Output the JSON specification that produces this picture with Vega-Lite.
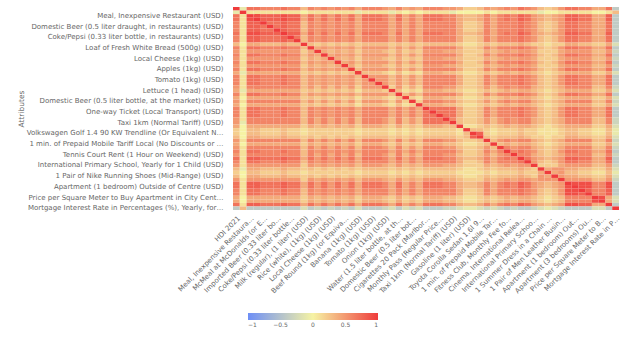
{
"$schema": "https://vega.github.io/schema/vega-lite/v6.json",
"width": 386, "height": 203,
"padding": {"left": 17, "top": 7, "right": 0, "bottom": 0},
"background": "white",
"datasets": {"attrs": [
{"i":0,"n":"HDI 2021"},{"i":1,"n":"Data Quality"},
{"i":2,"n":"Meal, Inexpensive Restaurant (USD)"},
{"i":3,"n":"Meal for 2 People, Mid-range Restaurant, Three-course (USD)"},
{"i":4,"n":"McMeal at McDonalds (or Equivalent Combo Meal) (USD)"},
{"i":5,"n":"Domestic Beer (0.5 liter draught, in restaurants) (USD)"},
{"i":6,"n":"Imported Beer (0.33 liter bottle, in restaurants) (USD)"},
{"i":7,"n":"Cappuccino (regular, in restaurants) (USD)"},
{"i":8,"n":"Coke/Pepsi (0.33 liter bottle, in restaurants) (USD)"},
{"i":9,"n":"Water (0.33 liter bottle, in restaurants) (USD)"},
{"i":10,"n":"Milk (regular), (1 liter) (USD)"},
{"i":11,"n":"Loaf of Fresh White Bread (500g) (USD)"},
{"i":12,"n":"Rice (white), (1kg) (USD)"},
{"i":13,"n":"Eggs (regular) (12) (USD)"},
{"i":14,"n":"Local Cheese (1kg) (USD)"},
{"i":15,"n":"Chicken Fillets (1kg) (USD)"},
{"i":16,"n":"Beef Round (1kg) (or Equivalent Back Leg Red Meat) (USD)"},
{"i":17,"n":"Apples (1kg) (USD)"},
{"i":18,"n":"Banana (1kg) (USD)"},
{"i":19,"n":"Oranges (1kg) (USD)"},
{"i":20,"n":"Tomato (1kg) (USD)"},
{"i":21,"n":"Potato (1kg) (USD)"},
{"i":22,"n":"Onion (1kg) (USD)"},
{"i":23,"n":"Lettuce (1 head) (USD)"},
{"i":24,"n":"Water (1.5 liter bottle, at the market) (USD)"},
{"i":25,"n":"Bottle of Wine (Mid-Range, At the Market) (USD)"},
{"i":26,"n":"Domestic Beer (0.5 liter bottle, at the market) (USD)"},
{"i":27,"n":"Imported Beer (0.33 liter bottle, at the market) (USD)"},
{"i":28,"n":"Cigarettes 20 Pack (Marlboro) (USD)"},
{"i":29,"n":"One-way Ticket (Local Transport) (USD)"},
{"i":30,"n":"Monthly Pass (Regular Price) (USD)"},
{"i":31,"n":"Taxi Start (Normal Tariff) (USD)"},
{"i":32,"n":"Taxi 1km (Normal Tariff) (USD)"},
{"i":33,"n":"Taxi 1hour Waiting (Normal Tariff) (USD)"},
{"i":34,"n":"Gasoline (1 liter) (USD)"},
{"i":35,"n":"Volkswagen Golf 1.4 90 KW Trendline (Or Equivalent New Car) (USD)"},
{"i":36,"n":"Toyota Corolla Sedan 1.6l 97kW Comfort (Or Equivalent New Car) (USD)"},
{"i":37,"n":"Basic (Electricity, Heating, Cooling, Water, Garbage) for 85m2 Apartment (USD)"},
{"i":38,"n":"1 min. of Prepaid Mobile Tariff Local (No Discounts or Plans) (USD)"},
{"i":39,"n":"Internet (60 Mbps or More, Unlimited Data, Cable/ADSL) (USD)"},
{"i":40,"n":"Fitness Club, Monthly Fee for 1 Adult (USD)"},
{"i":41,"n":"Tennis Court Rent (1 Hour on Weekend) (USD)"},
{"i":42,"n":"Cinema, International Release, 1 Seat (USD)"},
{"i":43,"n":"Preschool (or Kindergarten), Full Day, Private, Monthly for 1 Child (USD)"},
{"i":44,"n":"International Primary School, Yearly for 1 Child (USD)"},
{"i":45,"n":"1 Pair of Jeans (Levis 501 Or Similar) (USD)"},
{"i":46,"n":"1 Summer Dress in a Chain Store (Zara, H&M, ...) (USD)"},
{"i":47,"n":"1 Pair of Nike Running Shoes (Mid-Range) (USD)"},
{"i":48,"n":"1 Pair of Men Leather Business Shoes (USD)"},
{"i":49,"n":"Apartment (1 bedroom) in City Centre (USD)"},
{"i":50,"n":"Apartment (1 bedroom) Outside of Centre (USD)"},
{"i":51,"n":"Apartment (3 bedrooms) in City Centre (USD)"},
{"i":52,"n":"Apartment (3 bedrooms) Outside of Centre (USD)"},
{"i":53,"n":"Price per Square Meter to Buy Apartment in City Centre (USD)"},
{"i":54,"n":"Price per Square Meter to Buy Apartment Outside of Centre (USD)"},
{"i":55,"n":"Average Monthly Net Salary (After Tax) (USD)"},
{"i":56,"n":"Mortgage Interest Rate in Percentages (%), Yearly, for 20 Years Fixed-Rate"}
]},
"data": {"values": [
{"r":0,"c":[0,1,2,3,4,5,6,7,8,9,10,11,12,13,14,15,16,17,18,19,20,21,22,23,24,25,26,27,28,29,30,31,32,33,34,35,36,37,38,39,40,41,42,43,44,45,46,47,48,49,50,51,52,53,54,55,56],"v":[1,-0.1,0.7,0.7,0.6,0.6,0.6,0.7,0.6,0.6,0.3,0.6,0.5,0.6,0.5,0.6,0.5,0.6,0.4,0.6,0.6,0.6,0.5,0.4,0.6,0.4,0.5,0.4,0.6,0.6,0.6,0.5,0.5,0.4,0.2,0.2,0.3,0.5,0.4,0.5,0.6,0.5,0.7,0.6,0.5,0.3,0.2,0.3,0.5,0.7,0.7,0.6,0.6,0.4,0.4,0.7,-0.4]},
{"r":1,"c":[0,1,2,3,4,5,6,7,8,9,10,11,12,13,14,15,16,17,18,19,20,21,22,23,24,25,26,27,28,29,30,31,32,33,34,35,36,37,38,39,40,41,42,43,44,45,46,47,48,49,50,51,52,53,54,55,56],"v":[-0.1,1,0.1,0.1,0.1,0.1,0.1,0.1,0.1,0.1,0,0.1,0.1,0.1,0.1,0.1,0.1,0.1,-0.1,0.1,0.1,0.1,0.1,-0.1,0.1,0,0.1,0,0.1,0.1,0.1,0.1,-0.1,0,0,0,0,0.1,0,0.1,0.1,0.1,0.1,0.1,0.1,-0.1,0,0,0.1,0.1,0.1,0.1,0.1,0,0,0.1,0.3]},
{"r":2,"c":[0,1,2,3,4,5,6,7,8,9,10,11,12,13,14,15,16,17,18,19,20,21,22,23,24,25,26,27,28,29,30,31,32,33,34,35,36,37,38,39,40,41,42,43,44,45,46,47,48,49,50,51,52,53,54,55,56],"v":[0.7,0.1,1,0.9,0.8,0.8,0.8,0.9,0.8,0.8,0.4,0.7,0.5,0.7,0.5,0.7,0.5,0.7,0.4,0.7,0.7,0.7,0.6,0.4,0.7,0.4,0.6,0.4,0.7,0.7,0.7,0.6,0.6,0.4,0.3,0.3,0.4,0.6,0.4,0.6,0.7,0.6,0.8,0.7,0.5,0.4,0.3,0.4,0.5,0.8,0.8,0.7,0.7,0.4,0.4,0.8,-0.4]},
{"r":3,"c":[0,1,2,3,4,5,6,7,8,9,10,11,12,13,14,15,16,17,18,19,20,21,22,23,24,25,26,27,28,29,30,31,32,33,34,35,36,37,38,39,40,41,42,43,44,45,46,47,48,49,50,51,52,53,54,55,56],"v":[0.7,0.1,0.9,1,0.8,0.8,0.8,0.9,0.8,0.8,0.4,0.7,0.5,0.7,0.5,0.7,0.5,0.7,0.4,0.7,0.7,0.7,0.6,0.4,0.7,0.4,0.6,0.4,0.7,0.7,0.7,0.6,0.6,0.4,0.3,0.3,0.4,0.6,0.4,0.6,0.7,0.6,0.8,0.7,0.5,0.4,0.3,0.4,0.5,0.8,0.8,0.7,0.7,0.4,0.4,0.8,-0.4]},
{"r":4,"c":[0,1,2,3,4,5,6,7,8,9,10,11,12,13,14,15,16,17,18,19,20,21,22,23,24,25,26,27,28,29,30,31,32,33,34,35,36,37,38,39,40,41,42,43,44,45,46,47,48,49,50,51,52,53,54,55,56],"v":[0.6,0.1,0.8,0.8,1,0.7,0.7,0.8,0.7,0.7,0.3,0.6,0.5,0.6,0.5,0.6,0.5,0.6,0.4,0.6,0.6,0.6,0.6,0.4,0.6,0.4,0.6,0.4,0.6,0.6,0.6,0.6,0.6,0.4,0.2,0.2,0.3,0.6,0.4,0.6,0.6,0.6,0.7,0.6,0.5,0.3,0.2,0.3,0.5,0.7,0.7,0.6,0.6,0.4,0.4,0.7,-0.4]},
{"r":5,"c":[0,1,2,3,4,5,6,7,8,9,10,11,12,13,14,15,16,17,18,19,20,21,22,23,24,25,26,27,28,29,30,31,32,33,34,35,36,37,38,39,40,41,42,43,44,45,46,47,48,49,50,51,52,53,54,55,56],"v":[0.6,0.1,0.8,0.8,0.7,1,0.7,0.8,0.7,0.7,0.3,0.6,0.5,0.6,0.5,0.6,0.5,0.6,0.4,0.6,0.6,0.6,0.6,0.4,0.6,0.4,0.6,0.4,0.6,0.6,0.6,0.6,0.6,0.4,0.2,0.2,0.3,0.6,0.4,0.6,0.6,0.6,0.7,0.6,0.5,0.3,0.2,0.3,0.5,0.7,0.7,0.6,0.6,0.4,0.4,0.7,-0.4]},
{"r":6,"c":[0,1,2,3,4,5,6,7,8,9,10,11,12,13,14,15,16,17,18,19,20,21,22,23,24,25,26,27,28,29,30,31,32,33,34,35,36,37,38,39,40,41,42,43,44,45,46,47,48,49,50,51,52,53,54,55,56],"v":[0.6,0.1,0.8,0.8,0.7,0.7,1,0.8,0.7,0.7,0.3,0.6,0.5,0.6,0.5,0.6,0.5,0.6,0.4,0.6,0.6,0.6,0.6,0.4,0.6,0.4,0.6,0.4,0.6,0.6,0.6,0.6,0.6,0.4,0.2,0.2,0.3,0.6,0.4,0.6,0.6,0.6,0.7,0.6,0.5,0.3,0.2,0.3,0.5,0.7,0.7,0.6,0.6,0.4,0.4,0.7,-0.4]},
{"r":7,"c":[0,1,2,3,4,5,6,7,8,9,10,11,12,13,14,15,16,17,18,19,20,21,22,23,24,25,26,27,28,29,30,31,32,33,34,35,36,37,38,39,40,41,42,43,44,45,46,47,48,49,50,51,52,53,54,55,56],"v":[0.7,0.1,0.9,0.9,0.8,0.8,0.8,1,0.8,0.8,0.4,0.7,0.5,0.7,0.5,0.7,0.5,0.7,0.4,0.7,0.7,0.7,0.6,0.4,0.7,0.4,0.6,0.4,0.7,0.7,0.7,0.6,0.6,0.4,0.3,0.3,0.4,0.6,0.4,0.6,0.7,0.6,0.8,0.7,0.5,0.4,0.3,0.4,0.5,0.8,0.8,0.7,0.7,0.4,0.4,0.8,-0.4]},
{"r":8,"c":[0,1,2,3,4,5,6,7,8,9,10,11,12,13,14,15,16,17,18,19,20,21,22,23,24,25,26,27,28,29,30,31,32,33,34,35,36,37,38,39,40,41,42,43,44,45,46,47,48,49,50,51,52,53,54,55,56],"v":[0.6,0.1,0.8,0.8,0.7,0.7,0.7,0.8,1,0.7,0.3,0.6,0.5,0.6,0.5,0.6,0.5,0.6,0.4,0.6,0.6,0.6,0.6,0.4,0.6,0.4,0.6,0.4,0.6,0.6,0.6,0.6,0.6,0.4,0.2,0.2,0.3,0.6,0.4,0.6,0.6,0.6,0.7,0.6,0.5,0.3,0.2,0.3,0.5,0.7,0.7,0.6,0.6,0.4,0.4,0.7,-0.4]},
{"r":9,"c":[0,1,2,3,4,5,6,7,8,9,10,11,12,13,14,15,16,17,18,19,20,21,22,23,24,25,26,27,28,29,30,31,32,33,34,35,36,37,38,39,40,41,42,43,44,45,46,47,48,49,50,51,52,53,54,55,56],"v":[0.6,0.1,0.8,0.8,0.7,0.7,0.7,0.8,0.7,1,0.3,0.6,0.5,0.6,0.5,0.6,0.5,0.6,0.4,0.6,0.6,0.6,0.6,0.4,0.6,0.4,0.6,0.4,0.6,0.6,0.6,0.6,0.6,0.4,0.2,0.2,0.3,0.6,0.4,0.6,0.6,0.6,0.7,0.6,0.5,0.3,0.2,0.3,0.5,0.7,0.7,0.6,0.6,0.4,0.4,0.7,-0.4]},
{"r":10,"c":[0,1,2,3,4,5,6,7,8,9,10,11,12,13,14,15,16,17,18,19,20,21,22,23,24,25,26,27,28,29,30,31,32,33,34,35,36,37,38,39,40,41,42,43,44,45,46,47,48,49,50,51,52,53,54,55,56],"v":[0.3,0,0.4,0.4,0.3,0.3,0.3,0.4,0.3,0.3,1,0.3,0.2,0.3,0.2,0.3,0.2,0.3,0.2,0.3,0.3,0.3,0.3,0.2,0.3,0.2,0.3,0.2,0.3,0.3,0.3,0.3,0.3,0.2,0.1,0.1,0.2,0.3,0.2,0.3,0.3,0.3,0.4,0.3,0.2,0.2,0.1,0.2,0.2,0.4,0.4,0.3,0.3,0.2,0.2,0.4,-0.2]},
{"r":11,"c":[0,1,2,3,4,5,6,7,8,9,10,11,12,13,14,15,16,17,18,19,20,21,22,23,24,25,26,27,28,29,30,31,32,33,34,35,36,37,38,39,40,41,42,43,44,45,46,47,48,49,50,51,52,53,54,55,56],"v":[0.6,0.1,0.7,0.7,0.6,0.6,0.6,0.7,0.6,0.6,0.3,1,0.4,0.5,0.4,0.5,0.4,0.5,0.3,0.5,0.5,0.5,0.5,0.3,0.5,0.3,0.5,0.3,0.6,0.6,0.6,0.6,0.6,0.4,0.2,0.2,0.3,0.6,0.4,0.6,0.6,0.6,0.7,0.6,0.5,0.3,0.2,0.3,0.5,0.7,0.7,0.6,0.6,0.4,0.4,0.7,-0.4]},
{"r":12,"c":[0,1,2,3,4,5,6,7,8,9,10,11,12,13,14,15,16,17,18,19,20,21,22,23,24,25,26,27,28,29,30,31,32,33,34,35,36,37,38,39,40,41,42,43,44,45,46,47,48,49,50,51,52,53,54,55,56],"v":[0.5,0.1,0.5,0.5,0.5,0.5,0.5,0.5,0.5,0.5,0.2,0.4,1,0.4,0.3,0.4,0.3,0.4,0.2,0.4,0.4,0.4,0.3,0.2,0.4,0.2,0.3,0.2,0.5,0.5,0.5,0.4,0.4,0.3,0.2,0.2,0.2,0.4,0.3,0.4,0.5,0.4,0.5,0.5,0.4,0.2,0.2,0.2,0.4,0.5,0.5,0.5,0.5,0.3,0.3,0.5,-0.3]},
{"r":13,"c":[0,1,2,3,4,5,6,7,8,9,10,11,12,13,14,15,16,17,18,19,20,21,22,23,24,25,26,27,28,29,30,31,32,33,34,35,36,37,38,39,40,41,42,43,44,45,46,47,48,49,50,51,52,53,54,55,56],"v":[0.6,0.1,0.7,0.7,0.6,0.6,0.6,0.7,0.6,0.6,0.3,0.5,0.4,1,0.4,0.5,0.4,0.5,0.3,0.5,0.5,0.5,0.5,0.3,0.5,0.3,0.5,0.3,0.6,0.6,0.6,0.6,0.6,0.4,0.2,0.2,0.3,0.6,0.4,0.6,0.6,0.6,0.7,0.6,0.5,0.3,0.2,0.3,0.5,0.7,0.7,0.6,0.6,0.4,0.4,0.7,-0.4]},
{"r":14,"c":[0,1,2,3,4,5,6,7,8,9,10,11,12,13,14,15,16,17,18,19,20,21,22,23,24,25,26,27,28,29,30,31,32,33,34,35,36,37,38,39,40,41,42,43,44,45,46,47,48,49,50,51,52,53,54,55,56],"v":[0.5,0.1,0.5,0.5,0.5,0.5,0.5,0.5,0.5,0.5,0.2,0.4,0.3,0.4,1,0.4,0.3,0.4,0.2,0.4,0.4,0.4,0.3,0.2,0.4,0.2,0.3,0.2,0.5,0.5,0.5,0.4,0.4,0.3,0.2,0.2,0.2,0.4,0.3,0.4,0.5,0.4,0.5,0.5,0.4,0.2,0.2,0.2,0.4,0.5,0.5,0.5,0.5,0.3,0.3,0.5,-0.3]},
{"r":15,"c":[0,1,2,3,4,5,6,7,8,9,10,11,12,13,14,15,16,17,18,19,20,21,22,23,24,25,26,27,28,29,30,31,32,33,34,35,36,37,38,39,40,41,42,43,44,45,46,47,48,49,50,51,52,53,54,55,56],"v":[0.6,0.1,0.7,0.7,0.6,0.6,0.6,0.7,0.6,0.6,0.3,0.5,0.4,0.5,0.4,1,0.4,0.5,0.3,0.5,0.5,0.5,0.5,0.3,0.5,0.3,0.5,0.3,0.6,0.6,0.6,0.6,0.6,0.4,0.2,0.2,0.3,0.6,0.4,0.6,0.6,0.6,0.7,0.6,0.5,0.3,0.2,0.3,0.5,0.7,0.7,0.6,0.6,0.4,0.4,0.7,-0.4]},
{"r":16,"c":[0,1,2,3,4,5,6,7,8,9,10,11,12,13,14,15,16,17,18,19,20,21,22,23,24,25,26,27,28,29,30,31,32,33,34,35,36,37,38,39,40,41,42,43,44,45,46,47,48,49,50,51,52,53,54,55,56],"v":[0.5,0.1,0.5,0.5,0.5,0.5,0.5,0.5,0.5,0.5,0.2,0.4,0.3,0.4,0.3,0.4,1,0.4,0.2,0.4,0.4,0.4,0.3,0.2,0.4,0.2,0.3,0.2,0.5,0.5,0.5,0.4,0.4,0.3,0.2,0.2,0.2,0.4,0.3,0.4,0.5,0.4,0.5,0.5,0.4,0.2,0.2,0.2,0.4,0.5,0.5,0.5,0.5,0.3,0.3,0.5,-0.3]},
{"r":17,"c":[0,1,2,3,4,5,6,7,8,9,10,11,12,13,14,15,16,17,18,19,20,21,22,23,24,25,26,27,28,29,30,31,32,33,34,35,36,37,38,39,40,41,42,43,44,45,46,47,48,49,50,51,52,53,54,55,56],"v":[0.6,0.1,0.7,0.7,0.6,0.6,0.6,0.7,0.6,0.6,0.3,0.5,0.4,0.5,0.4,0.5,0.4,1,0.3,0.5,0.5,0.5,0.5,0.3,0.5,0.3,0.5,0.3,0.6,0.6,0.6,0.6,0.6,0.4,0.2,0.2,0.3,0.6,0.4,0.6,0.6,0.6,0.7,0.6,0.5,0.3,0.2,0.3,0.5,0.7,0.7,0.6,0.6,0.4,0.4,0.7,-0.4]},
{"r":18,"c":[0,1,2,3,4,5,6,7,8,9,10,11,12,13,14,15,16,17,18,19,20,21,22,23,24,25,26,27,28,29,30,31,32,33,34,35,36,37,38,39,40,41,42,43,44,45,46,47,48,49,50,51,52,53,54,55,56],"v":[0.4,-0.1,0.4,0.4,0.4,0.4,0.4,0.4,0.4,0.4,0.2,0.3,0.2,0.3,0.2,0.3,0.2,0.3,1,0.3,0.3,0.3,0.2,0.1,0.3,0.1,0.2,0.1,0.4,0.4,0.4,0.3,0.3,0.2,0.1,0.1,0.2,0.3,0.2,0.3,0.4,0.3,0.4,0.4,0.3,0.2,0.1,0.2,0.3,0.4,0.4,0.4,0.4,0.2,0.2,0.4,-0.2]},
{"r":19,"c":[0,1,2,3,4,5,6,7,8,9,10,11,12,13,14,15,16,17,18,19,20,21,22,23,24,25,26,27,28,29,30,31,32,33,34,35,36,37,38,39,40,41,42,43,44,45,46,47,48,49,50,51,52,53,54,55,56],"v":[0.6,0.1,0.7,0.7,0.6,0.6,0.6,0.7,0.6,0.6,0.3,0.5,0.4,0.5,0.4,0.5,0.4,0.5,0.3,1,0.5,0.5,0.5,0.3,0.5,0.3,0.5,0.3,0.6,0.6,0.6,0.6,0.6,0.4,0.2,0.2,0.3,0.6,0.4,0.6,0.6,0.6,0.7,0.6,0.5,0.3,0.2,0.3,0.5,0.7,0.7,0.6,0.6,0.4,0.4,0.7,-0.4]},
{"r":20,"c":[0,1,2,3,4,5,6,7,8,9,10,11,12,13,14,15,16,17,18,19,20,21,22,23,24,25,26,27,28,29,30,31,32,33,34,35,36,37,38,39,40,41,42,43,44,45,46,47,48,49,50,51,52,53,54,55,56],"v":[0.6,0.1,0.7,0.7,0.6,0.6,0.6,0.7,0.6,0.6,0.3,0.5,0.4,0.5,0.4,0.5,0.4,0.5,0.3,0.5,1,0.5,0.5,0.3,0.5,0.3,0.5,0.3,0.6,0.6,0.6,0.6,0.6,0.4,0.2,0.2,0.3,0.6,0.4,0.6,0.6,0.6,0.7,0.6,0.5,0.3,0.2,0.3,0.5,0.7,0.7,0.6,0.6,0.4,0.4,0.7,-0.4]},
{"r":21,"c":[0,1,2,3,4,5,6,7,8,9,10,11,12,13,14,15,16,17,18,19,20,21,22,23,24,25,26,27,28,29,30,31,32,33,34,35,36,37,38,39,40,41,42,43,44,45,46,47,48,49,50,51,52,53,54,55,56],"v":[0.6,0.1,0.7,0.7,0.6,0.6,0.6,0.7,0.6,0.6,0.3,0.5,0.4,0.5,0.4,0.5,0.4,0.5,0.3,0.5,0.5,1,0.5,0.3,0.5,0.3,0.5,0.3,0.6,0.6,0.6,0.6,0.6,0.4,0.2,0.2,0.3,0.6,0.4,0.6,0.6,0.6,0.7,0.6,0.5,0.3,0.2,0.3,0.5,0.7,0.7,0.6,0.6,0.4,0.4,0.7,-0.4]},
{"r":22,"c":[0,1,2,3,4,5,6,7,8,9,10,11,12,13,14,15,16,17,18,19,20,21,22,23,24,25,26,27,28,29,30,31,32,33,34,35,36,37,38,39,40,41,42,43,44,45,46,47,48,49,50,51,52,53,54,55,56],"v":[0.5,0.1,0.6,0.6,0.6,0.6,0.6,0.6,0.6,0.6,0.3,0.5,0.3,0.5,0.3,0.5,0.3,0.5,0.2,0.5,0.5,0.5,1,0.2,0.5,0.2,0.4,0.2,0.6,0.6,0.6,0.5,0.5,0.3,0.2,0.2,0.3,0.5,0.3,0.5,0.6,0.5,0.6,0.6,0.4,0.3,0.2,0.3,0.4,0.6,0.6,0.6,0.6,0.3,0.3,0.6,-0.3]},
{"r":23,"c":[0,1,2,3,4,5,6,7,8,9,10,11,12,13,14,15,16,17,18,19,20,21,22,23,24,25,26,27,28,29,30,31,32,33,34,35,36,37,38,39,40,41,42,43,44,45,46,47,48,49,50,51,52,53,54,55,56],"v":[0.4,-0.1,0.4,0.4,0.4,0.4,0.4,0.4,0.4,0.4,0.2,0.3,0.2,0.3,0.2,0.3,0.2,0.3,0.1,0.3,0.3,0.3,0.2,1,0.3,0.1,0.2,0.1,0.4,0.4,0.4,0.3,0.3,0.2,0.1,0.1,0.2,0.3,0.2,0.3,0.4,0.3,0.4,0.4,0.3,0.2,0.1,0.2,0.3,0.4,0.4,0.4,0.4,0.2,0.2,0.4,-0.2]},
{"r":24,"c":[0,1,2,3,4,5,6,7,8,9,10,11,12,13,14,15,16,17,18,19,20,21,22,23,24,25,26,27,28,29,30,31,32,33,34,35,36,37,38,39,40,41,42,43,44,45,46,47,48,49,50,51,52,53,54,55,56],"v":[0.6,0.1,0.7,0.7,0.6,0.6,0.6,0.7,0.6,0.6,0.3,0.5,0.4,0.5,0.4,0.5,0.4,0.5,0.3,0.5,0.5,0.5,0.5,0.3,1,0.3,0.5,0.3,0.6,0.6,0.6,0.6,0.6,0.4,0.2,0.2,0.3,0.6,0.4,0.6,0.6,0.6,0.7,0.6,0.5,0.3,0.2,0.3,0.5,0.7,0.7,0.6,0.6,0.4,0.4,0.7,-0.4]},
{"r":25,"c":[0,1,2,3,4,5,6,7,8,9,10,11,12,13,14,15,16,17,18,19,20,21,22,23,24,25,26,27,28,29,30,31,32,33,34,35,36,37,38,39,40,41,42,43,44,45,46,47,48,49,50,51,52,53,54,55,56],"v":[0.4,0,0.4,0.4,0.4,0.4,0.4,0.4,0.4,0.4,0.2,0.3,0.2,0.3,0.2,0.3,0.2,0.3,0.1,0.3,0.3,0.3,0.2,0.1,0.3,1,0.2,0.1,0.4,0.4,0.4,0.3,0.3,0.2,0.1,0.1,0.2,0.3,0.2,0.3,0.4,0.3,0.4,0.4,0.3,0.2,0.1,0.2,0.3,0.4,0.4,0.4,0.4,0.2,0.2,0.4,-0.2]},
{"r":26,"c":[0,1,2,3,4,5,6,7,8,9,10,11,12,13,14,15,16,17,18,19,20,21,22,23,24,25,26,27,28,29,30,31,32,33,34,35,36,37,38,39,40,41,42,43,44,45,46,47,48,49,50,51,52,53,54,55,56],"v":[0.5,0.1,0.6,0.6,0.6,0.6,0.6,0.6,0.6,0.6,0.3,0.5,0.3,0.5,0.3,0.5,0.3,0.5,0.2,0.5,0.5,0.5,0.4,0.2,0.5,0.2,1,0.2,0.6,0.6,0.6,0.5,0.5,0.3,0.2,0.2,0.3,0.5,0.3,0.5,0.6,0.5,0.6,0.6,0.4,0.3,0.2,0.3,0.4,0.6,0.6,0.6,0.6,0.3,0.3,0.6,-0.3]},
{"r":27,"c":[0,1,2,3,4,5,6,7,8,9,10,11,12,13,14,15,16,17,18,19,20,21,22,23,24,25,26,27,28,29,30,31,32,33,34,35,36,37,38,39,40,41,42,43,44,45,46,47,48,49,50,51,52,53,54,55,56],"v":[0.4,0,0.4,0.4,0.4,0.4,0.4,0.4,0.4,0.4,0.2,0.3,0.2,0.3,0.2,0.3,0.2,0.3,0.1,0.3,0.3,0.3,0.2,0.1,0.3,0.1,0.2,1,0.4,0.4,0.4,0.3,0.3,0.2,0.1,0.1,0.2,0.3,0.2,0.3,0.4,0.3,0.4,0.4,0.3,0.2,0.1,0.2,0.3,0.4,0.4,0.4,0.4,0.2,0.2,0.4,-0.2]},
{"r":28,"c":[0,1,2,3,4,5,6,7,8,9,10,11,12,13,14,15,16,17,18,19,20,21,22,23,24,25,26,27,28,29,30,31,32,33,34,35,36,37,38,39,40,41,42,43,44,45,46,47,48,49,50,51,52,53,54,55,56],"v":[0.6,0.1,0.7,0.7,0.6,0.6,0.6,0.7,0.6,0.6,0.3,0.6,0.5,0.6,0.5,0.6,0.5,0.6,0.4,0.6,0.6,0.6,0.6,0.4,0.6,0.4,0.6,0.4,1,0.7,0.7,0.7,0.7,0.4,0.2,0.2,0.3,0.6,0.4,0.6,0.6,0.6,0.7,0.6,0.5,0.3,0.2,0.3,0.5,0.7,0.7,0.6,0.6,0.4,0.4,0.7,-0.4]},
{"r":29,"c":[0,1,2,3,4,5,6,7,8,9,10,11,12,13,14,15,16,17,18,19,20,21,22,23,24,25,26,27,28,29,30,31,32,33,34,35,36,37,38,39,40,41,42,43,44,45,46,47,48,49,50,51,52,53,54,55,56],"v":[0.6,0.1,0.7,0.7,0.6,0.6,0.6,0.7,0.6,0.6,0.3,0.6,0.5,0.6,0.5,0.6,0.5,0.6,0.4,0.6,0.6,0.6,0.6,0.4,0.6,0.4,0.6,0.4,0.7,1,0.7,0.7,0.7,0.4,0.2,0.2,0.3,0.6,0.4,0.6,0.6,0.6,0.7,0.6,0.5,0.3,0.2,0.3,0.5,0.7,0.7,0.6,0.6,0.4,0.4,0.7,-0.4]},
{"r":30,"c":[0,1,2,3,4,5,6,7,8,9,10,11,12,13,14,15,16,17,18,19,20,21,22,23,24,25,26,27,28,29,30,31,32,33,34,35,36,37,38,39,40,41,42,43,44,45,46,47,48,49,50,51,52,53,54,55,56],"v":[0.6,0.1,0.7,0.7,0.6,0.6,0.6,0.7,0.6,0.6,0.3,0.6,0.5,0.6,0.5,0.6,0.5,0.6,0.4,0.6,0.6,0.6,0.6,0.4,0.6,0.4,0.6,0.4,0.7,0.7,1,0.7,0.7,0.4,0.2,0.2,0.3,0.6,0.4,0.6,0.6,0.6,0.7,0.6,0.5,0.3,0.2,0.3,0.5,0.7,0.7,0.6,0.6,0.4,0.4,0.7,-0.4]},
{"r":31,"c":[0,1,2,3,4,5,6,7,8,9,10,11,12,13,14,15,16,17,18,19,20,21,22,23,24,25,26,27,28,29,30,31,32,33,34,35,36,37,38,39,40,41,42,43,44,45,46,47,48,49,50,51,52,53,54,55,56],"v":[0.5,0.1,0.6,0.6,0.6,0.6,0.6,0.6,0.6,0.6,0.3,0.6,0.4,0.6,0.4,0.6,0.4,0.6,0.3,0.6,0.6,0.6,0.5,0.3,0.6,0.3,0.5,0.3,0.7,0.7,0.7,1,0.6,0.3,0.2,0.2,0.3,0.5,0.3,0.5,0.6,0.5,0.6,0.6,0.4,0.3,0.2,0.3,0.4,0.6,0.6,0.6,0.6,0.3,0.3,0.6,-0.3]},
{"r":32,"c":[0,1,2,3,4,5,6,7,8,9,10,11,12,13,14,15,16,17,18,19,20,21,22,23,24,25,26,27,28,29,30,31,32,33,34,35,36,37,38,39,40,41,42,43,44,45,46,47,48,49,50,51,52,53,54,55,56],"v":[0.5,-0.1,0.6,0.6,0.6,0.6,0.6,0.6,0.6,0.6,0.3,0.6,0.4,0.6,0.4,0.6,0.4,0.6,0.3,0.6,0.6,0.6,0.5,0.3,0.6,0.3,0.5,0.3,0.7,0.7,0.7,0.6,1,0.3,0.2,0.2,0.3,0.5,0.3,0.5,0.6,0.5,0.6,0.6,0.4,0.3,0.2,0.3,0.4,0.6,0.6,0.6,0.6,0.3,0.3,0.6,-0.3]},
{"r":33,"c":[0,1,2,3,4,5,6,7,8,9,10,11,12,13,14,15,16,17,18,19,20,21,22,23,24,25,26,27,28,29,30,31,32,33,34,35,36,37,38,39,40,41,42,43,44,45,46,47,48,49,50,51,52,53,54,55,56],"v":[0.4,0,0.4,0.4,0.4,0.4,0.4,0.4,0.4,0.4,0.2,0.4,0.3,0.4,0.3,0.4,0.3,0.4,0.2,0.4,0.4,0.4,0.3,0.2,0.4,0.2,0.3,0.2,0.4,0.4,0.4,0.3,0.3,1,0.1,0.1,0.2,0.3,0.2,0.3,0.4,0.3,0.4,0.4,0.3,0.2,0.1,0.2,0.3,0.4,0.4,0.4,0.4,0.2,0.2,0.4,-0.2]},
{"r":34,"c":[0,1,2,3,4,5,6,7,8,9,10,11,12,13,14,15,16,17,18,19,20,21,22,23,24,25,26,27,28,29,30,31,32,33,34,35,36,37,38,39,40,41,42,43,44,45,46,47,48,49,50,51,52,53,54,55,56],"v":[0.2,0,0.3,0.3,0.2,0.2,0.2,0.3,0.2,0.2,0.1,0.2,0.2,0.2,0.2,0.2,0.2,0.2,0.1,0.2,0.2,0.2,0.2,0.1,0.2,0.1,0.2,0.1,0.2,0.2,0.2,0.2,0.2,0.1,1,0.3,0.3,0.2,0.1,0.2,0.2,0.2,0.3,0.2,0.2,0.1,0.1,0.1,0.2,0.3,0.3,0.2,0.2,0.1,0.1,0.3,-0.1]},
{"r":35,"c":[0,1,2,3,4,5,6,7,8,9,10,11,12,13,14,15,16,17,18,19,20,21,22,23,24,25,26,27,28,29,30,31,32,33,34,35,36,37,38,39,40,41,42,43,44,45,46,47,48,49,50,51,52,53,54,55,56],"v":[0.2,0,0.3,0.3,0.2,0.2,0.2,0.3,0.2,0.2,0.1,0.2,0.2,0.2,0.2,0.2,0.2,0.2,0.1,0.2,0.2,0.2,0.2,0.1,0.2,0.1,0.2,0.1,0.2,0.2,0.2,0.2,0.2,0.1,0.3,1,0.8,0.2,0.1,0.2,0.2,0.2,0.3,0.2,0.2,0.1,0.1,0.1,0.2,0.3,0.3,0.2,0.2,0.1,0.1,0.3,-0.1]},
{"r":36,"c":[0,1,2,3,4,5,6,7,8,9,10,11,12,13,14,15,16,17,18,19,20,21,22,23,24,25,26,27,28,29,30,31,32,33,34,35,36,37,38,39,40,41,42,43,44,45,46,47,48,49,50,51,52,53,54,55,56],"v":[0.3,0,0.4,0.4,0.3,0.3,0.3,0.4,0.3,0.3,0.2,0.3,0.2,0.3,0.2,0.3,0.2,0.3,0.2,0.3,0.3,0.3,0.3,0.2,0.3,0.2,0.3,0.2,0.3,0.3,0.3,0.3,0.3,0.2,0.3,0.8,1,0.3,0.2,0.3,0.3,0.3,0.4,0.3,0.2,0.2,0.1,0.2,0.2,0.4,0.4,0.3,0.3,0.2,0.2,0.4,-0.2]},
{"r":37,"c":[0,1,2,3,4,5,6,7,8,9,10,11,12,13,14,15,16,17,18,19,20,21,22,23,24,25,26,27,28,29,30,31,32,33,34,35,36,37,38,39,40,41,42,43,44,45,46,47,48,49,50,51,52,53,54,55,56],"v":[0.5,0.1,0.6,0.6,0.6,0.6,0.6,0.6,0.6,0.6,0.3,0.6,0.4,0.6,0.4,0.6,0.4,0.6,0.3,0.6,0.6,0.6,0.5,0.3,0.6,0.3,0.5,0.3,0.6,0.6,0.6,0.5,0.5,0.3,0.2,0.2,0.3,1,0.3,0.5,0.6,0.5,0.6,0.6,0.4,0.3,0.2,0.3,0.4,0.6,0.6,0.6,0.6,0.3,0.3,0.6,-0.3]},
{"r":38,"c":[0,1,2,3,4,5,6,7,8,9,10,11,12,13,14,15,16,17,18,19,20,21,22,23,24,25,26,27,28,29,30,31,32,33,34,35,36,37,38,39,40,41,42,43,44,45,46,47,48,49,50,51,52,53,54,55,56],"v":[0.4,0,0.4,0.4,0.4,0.4,0.4,0.4,0.4,0.4,0.2,0.4,0.3,0.4,0.3,0.4,0.3,0.4,0.2,0.4,0.4,0.4,0.3,0.2,0.4,0.2,0.3,0.2,0.4,0.4,0.4,0.3,0.3,0.2,0.1,0.1,0.2,0.3,1,0.3,0.4,0.3,0.4,0.4,0.3,0.2,0.1,0.2,0.3,0.4,0.4,0.4,0.4,0.2,0.2,0.4,-0.2]},
{"r":39,"c":[0,1,2,3,4,5,6,7,8,9,10,11,12,13,14,15,16,17,18,19,20,21,22,23,24,25,26,27,28,29,30,31,32,33,34,35,36,37,38,39,40,41,42,43,44,45,46,47,48,49,50,51,52,53,54,55,56],"v":[0.5,0.1,0.6,0.6,0.6,0.6,0.6,0.6,0.6,0.6,0.3,0.6,0.4,0.6,0.4,0.6,0.4,0.6,0.3,0.6,0.6,0.6,0.5,0.3,0.6,0.3,0.5,0.3,0.6,0.6,0.6,0.5,0.5,0.3,0.2,0.2,0.3,0.5,0.3,1,0.6,0.5,0.6,0.6,0.4,0.3,0.2,0.3,0.4,0.6,0.6,0.6,0.6,0.3,0.3,0.6,-0.3]},
{"r":40,"c":[0,1,2,3,4,5,6,7,8,9,10,11,12,13,14,15,16,17,18,19,20,21,22,23,24,25,26,27,28,29,30,31,32,33,34,35,36,37,38,39,40,41,42,43,44,45,46,47,48,49,50,51,52,53,54,55,56],"v":[0.6,0.1,0.7,0.7,0.6,0.6,0.6,0.7,0.6,0.6,0.3,0.6,0.5,0.6,0.5,0.6,0.5,0.6,0.4,0.6,0.6,0.6,0.6,0.4,0.6,0.4,0.6,0.4,0.6,0.6,0.6,0.6,0.6,0.4,0.2,0.2,0.3,0.6,0.4,0.6,1,0.6,0.7,0.6,0.5,0.3,0.2,0.3,0.5,0.7,0.7,0.6,0.6,0.4,0.4,0.7,-0.4]},
{"r":41,"c":[0,1,2,3,4,5,6,7,8,9,10,11,12,13,14,15,16,17,18,19,20,21,22,23,24,25,26,27,28,29,30,31,32,33,34,35,36,37,38,39,40,41,42,43,44,45,46,47,48,49,50,51,52,53,54,55,56],"v":[0.5,0.1,0.6,0.6,0.6,0.6,0.6,0.6,0.6,0.6,0.3,0.6,0.4,0.6,0.4,0.6,0.4,0.6,0.3,0.6,0.6,0.6,0.5,0.3,0.6,0.3,0.5,0.3,0.6,0.6,0.6,0.5,0.5,0.3,0.2,0.2,0.3,0.5,0.3,0.5,0.6,1,0.6,0.6,0.4,0.3,0.2,0.3,0.4,0.6,0.6,0.6,0.6,0.3,0.3,0.6,-0.3]},
{"r":42,"c":[0,1,2,3,4,5,6,7,8,9,10,11,12,13,14,15,16,17,18,19,20,21,22,23,24,25,26,27,28,29,30,31,32,33,34,35,36,37,38,39,40,41,42,43,44,45,46,47,48,49,50,51,52,53,54,55,56],"v":[0.7,0.1,0.8,0.8,0.7,0.7,0.7,0.8,0.7,0.7,0.4,0.7,0.5,0.7,0.5,0.7,0.5,0.7,0.4,0.7,0.7,0.7,0.6,0.4,0.7,0.4,0.6,0.4,0.7,0.7,0.7,0.6,0.6,0.4,0.3,0.3,0.4,0.6,0.4,0.6,0.7,0.6,1,0.7,0.5,0.4,0.3,0.4,0.5,0.8,0.8,0.7,0.7,0.4,0.4,0.8,-0.4]},
{"r":43,"c":[0,1,2,3,4,5,6,7,8,9,10,11,12,13,14,15,16,17,18,19,20,21,22,23,24,25,26,27,28,29,30,31,32,33,34,35,36,37,38,39,40,41,42,43,44,45,46,47,48,49,50,51,52,53,54,55,56],"v":[0.6,0.1,0.7,0.7,0.6,0.6,0.6,0.7,0.6,0.6,0.3,0.6,0.5,0.6,0.5,0.6,0.5,0.6,0.4,0.6,0.6,0.6,0.6,0.4,0.6,0.4,0.6,0.4,0.6,0.6,0.6,0.6,0.6,0.4,0.2,0.2,0.3,0.6,0.4,0.6,0.6,0.6,0.7,1,0.5,0.3,0.2,0.3,0.5,0.7,0.7,0.6,0.6,0.4,0.4,0.7,-0.4]},
{"r":44,"c":[0,1,2,3,4,5,6,7,8,9,10,11,12,13,14,15,16,17,18,19,20,21,22,23,24,25,26,27,28,29,30,31,32,33,34,35,36,37,38,39,40,41,42,43,44,45,46,47,48,49,50,51,52,53,54,55,56],"v":[0.5,0.1,0.5,0.5,0.5,0.5,0.5,0.5,0.5,0.5,0.2,0.5,0.4,0.5,0.4,0.5,0.4,0.5,0.3,0.5,0.5,0.5,0.4,0.3,0.5,0.3,0.4,0.3,0.5,0.5,0.5,0.4,0.4,0.3,0.2,0.2,0.2,0.4,0.3,0.4,0.5,0.4,0.5,0.5,1,0.2,0.2,0.2,0.4,0.5,0.5,0.5,0.5,0.3,0.3,0.5,-0.3]},
{"r":45,"c":[0,1,2,3,4,5,6,7,8,9,10,11,12,13,14,15,16,17,18,19,20,21,22,23,24,25,26,27,28,29,30,31,32,33,34,35,36,37,38,39,40,41,42,43,44,45,46,47,48,49,50,51,52,53,54,55,56],"v":[0.3,-0.1,0.4,0.4,0.3,0.3,0.3,0.4,0.3,0.3,0.2,0.3,0.2,0.3,0.2,0.3,0.2,0.3,0.2,0.3,0.3,0.3,0.3,0.2,0.3,0.2,0.3,0.2,0.3,0.3,0.3,0.3,0.3,0.2,0.1,0.1,0.2,0.3,0.2,0.3,0.3,0.3,0.4,0.3,0.2,1,0.4,0.5,0.5,0.4,0.4,0.3,0.3,0.2,0.2,0.4,-0.2]},
{"r":46,"c":[0,1,2,3,4,5,6,7,8,9,10,11,12,13,14,15,16,17,18,19,20,21,22,23,24,25,26,27,28,29,30,31,32,33,34,35,36,37,38,39,40,41,42,43,44,45,46,47,48,49,50,51,52,53,54,55,56],"v":[0.2,0,0.3,0.3,0.2,0.2,0.2,0.3,0.2,0.2,0.1,0.2,0.2,0.2,0.2,0.2,0.2,0.2,0.1,0.2,0.2,0.2,0.2,0.1,0.2,0.1,0.2,0.1,0.2,0.2,0.2,0.2,0.2,0.1,0.1,0.1,0.1,0.2,0.1,0.2,0.2,0.2,0.3,0.2,0.2,0.4,1,0.4,0.5,0.3,0.3,0.2,0.2,0.1,0.1,0.3,-0.1]},
{"r":47,"c":[0,1,2,3,4,5,6,7,8,9,10,11,12,13,14,15,16,17,18,19,20,21,22,23,24,25,26,27,28,29,30,31,32,33,34,35,36,37,38,39,40,41,42,43,44,45,46,47,48,49,50,51,52,53,54,55,56],"v":[0.3,0,0.4,0.4,0.3,0.3,0.3,0.4,0.3,0.3,0.2,0.3,0.2,0.3,0.2,0.3,0.2,0.3,0.2,0.3,0.3,0.3,0.3,0.2,0.3,0.2,0.3,0.2,0.3,0.3,0.3,0.3,0.3,0.2,0.1,0.1,0.2,0.3,0.2,0.3,0.3,0.3,0.4,0.3,0.2,0.5,0.4,1,0.5,0.4,0.4,0.3,0.3,0.2,0.2,0.4,-0.2]},
{"r":48,"c":[0,1,2,3,4,5,6,7,8,9,10,11,12,13,14,15,16,17,18,19,20,21,22,23,24,25,26,27,28,29,30,31,32,33,34,35,36,37,38,39,40,41,42,43,44,45,46,47,48,49,50,51,52,53,54,55,56],"v":[0.5,0.1,0.5,0.5,0.5,0.5,0.5,0.5,0.5,0.5,0.2,0.5,0.4,0.5,0.4,0.5,0.4,0.5,0.3,0.5,0.5,0.5,0.4,0.3,0.5,0.3,0.4,0.3,0.5,0.5,0.5,0.4,0.4,0.3,0.2,0.2,0.2,0.4,0.3,0.4,0.5,0.4,0.5,0.5,0.4,0.5,0.5,0.5,1,0.5,0.5,0.5,0.5,0.3,0.3,0.5,-0.3]},
{"r":49,"c":[0,1,2,3,4,5,6,7,8,9,10,11,12,13,14,15,16,17,18,19,20,21,22,23,24,25,26,27,28,29,30,31,32,33,34,35,36,37,38,39,40,41,42,43,44,45,46,47,48,49,50,51,52,53,54,55,56],"v":[0.7,0.1,0.8,0.8,0.7,0.7,0.7,0.8,0.7,0.7,0.4,0.7,0.5,0.7,0.5,0.7,0.5,0.7,0.4,0.7,0.7,0.7,0.6,0.4,0.7,0.4,0.6,0.4,0.7,0.7,0.7,0.6,0.6,0.4,0.3,0.3,0.4,0.6,0.4,0.6,0.7,0.6,0.8,0.7,0.5,0.4,0.3,0.4,0.5,1,0.9,0.9,0.9,0.6,0.6,0.9,-0.4]},
{"r":50,"c":[0,1,2,3,4,5,6,7,8,9,10,11,12,13,14,15,16,17,18,19,20,21,22,23,24,25,26,27,28,29,30,31,32,33,34,35,36,37,38,39,40,41,42,43,44,45,46,47,48,49,50,51,52,53,54,55,56],"v":[0.7,0.1,0.8,0.8,0.7,0.7,0.7,0.8,0.7,0.7,0.4,0.7,0.5,0.7,0.5,0.7,0.5,0.7,0.4,0.7,0.7,0.7,0.6,0.4,0.7,0.4,0.6,0.4,0.7,0.7,0.7,0.6,0.6,0.4,0.3,0.3,0.4,0.6,0.4,0.6,0.7,0.6,0.8,0.7,0.5,0.4,0.3,0.4,0.5,0.9,1,0.9,0.9,0.6,0.6,0.9,-0.4]},
{"r":51,"c":[0,1,2,3,4,5,6,7,8,9,10,11,12,13,14,15,16,17,18,19,20,21,22,23,24,25,26,27,28,29,30,31,32,33,34,35,36,37,38,39,40,41,42,43,44,45,46,47,48,49,50,51,52,53,54,55,56],"v":[0.6,0.1,0.7,0.7,0.6,0.6,0.6,0.7,0.6,0.6,0.3,0.6,0.5,0.6,0.5,0.6,0.5,0.6,0.4,0.6,0.6,0.6,0.6,0.4,0.6,0.4,0.6,0.4,0.6,0.6,0.6,0.6,0.6,0.4,0.2,0.2,0.3,0.6,0.4,0.6,0.6,0.6,0.7,0.6,0.5,0.3,0.2,0.3,0.5,0.9,0.9,1,0.8,0.6,0.6,0.8,-0.4]},
{"r":52,"c":[0,1,2,3,4,5,6,7,8,9,10,11,12,13,14,15,16,17,18,19,20,21,22,23,24,25,26,27,28,29,30,31,32,33,34,35,36,37,38,39,40,41,42,43,44,45,46,47,48,49,50,51,52,53,54,55,56],"v":[0.6,0.1,0.7,0.7,0.6,0.6,0.6,0.7,0.6,0.6,0.3,0.6,0.5,0.6,0.5,0.6,0.5,0.6,0.4,0.6,0.6,0.6,0.6,0.4,0.6,0.4,0.6,0.4,0.6,0.6,0.6,0.6,0.6,0.4,0.2,0.2,0.3,0.6,0.4,0.6,0.6,0.6,0.7,0.6,0.5,0.3,0.2,0.3,0.5,0.9,0.9,0.8,1,0.6,0.6,0.8,-0.4]},
{"r":53,"c":[0,1,2,3,4,5,6,7,8,9,10,11,12,13,14,15,16,17,18,19,20,21,22,23,24,25,26,27,28,29,30,31,32,33,34,35,36,37,38,39,40,41,42,43,44,45,46,47,48,49,50,51,52,53,54,55,56],"v":[0.4,0,0.4,0.4,0.4,0.4,0.4,0.4,0.4,0.4,0.2,0.4,0.3,0.4,0.3,0.4,0.3,0.4,0.2,0.4,0.4,0.4,0.3,0.2,0.4,0.2,0.3,0.2,0.4,0.4,0.4,0.3,0.3,0.2,0.1,0.1,0.2,0.3,0.2,0.3,0.4,0.3,0.4,0.4,0.3,0.2,0.1,0.2,0.3,0.6,0.6,0.6,0.6,1,0.9,0.4,-0.2]},
{"r":54,"c":[0,1,2,3,4,5,6,7,8,9,10,11,12,13,14,15,16,17,18,19,20,21,22,23,24,25,26,27,28,29,30,31,32,33,34,35,36,37,38,39,40,41,42,43,44,45,46,47,48,49,50,51,52,53,54,55,56],"v":[0.4,0,0.4,0.4,0.4,0.4,0.4,0.4,0.4,0.4,0.2,0.4,0.3,0.4,0.3,0.4,0.3,0.4,0.2,0.4,0.4,0.4,0.3,0.2,0.4,0.2,0.3,0.2,0.4,0.4,0.4,0.3,0.3,0.2,0.1,0.1,0.2,0.3,0.2,0.3,0.4,0.3,0.4,0.4,0.3,0.2,0.1,0.2,0.3,0.6,0.6,0.6,0.6,0.9,1,0.4,-0.2]},
{"r":55,"c":[0,1,2,3,4,5,6,7,8,9,10,11,12,13,14,15,16,17,18,19,20,21,22,23,24,25,26,27,28,29,30,31,32,33,34,35,36,37,38,39,40,41,42,43,44,45,46,47,48,49,50,51,52,53,54,55,56],"v":[0.7,0.1,0.8,0.8,0.7,0.7,0.7,0.8,0.7,0.7,0.4,0.7,0.5,0.7,0.5,0.7,0.5,0.7,0.4,0.7,0.7,0.7,0.6,0.4,0.7,0.4,0.6,0.4,0.7,0.7,0.7,0.6,0.6,0.4,0.3,0.3,0.4,0.6,0.4,0.6,0.7,0.6,0.8,0.7,0.5,0.4,0.3,0.4,0.5,0.9,0.9,0.8,0.8,0.4,0.4,1,-0.4]},
{"r":56,"c":[0,1,2,3,4,5,6,7,8,9,10,11,12,13,14,15,16,17,18,19,20,21,22,23,24,25,26,27,28,29,30,31,32,33,34,35,36,37,38,39,40,41,42,43,44,45,46,47,48,49,50,51,52,53,54,55,56],"v":[-0.4,0.3,-0.4,-0.4,-0.4,-0.4,-0.4,-0.4,-0.4,-0.4,-0.2,-0.4,-0.3,-0.4,-0.3,-0.4,-0.3,-0.4,-0.2,-0.4,-0.4,-0.4,-0.3,-0.2,-0.4,-0.2,-0.3,-0.2,-0.4,-0.4,-0.4,-0.3,-0.3,-0.2,-0.1,-0.1,-0.2,-0.3,-0.2,-0.3,-0.4,-0.3,-0.4,-0.4,-0.3,-0.2,-0.1,-0.2,-0.3,-0.4,-0.4,-0.4,-0.4,-0.2,-0.2,-0.4,1]}
]},
"transform": [
{"flatten": ["c","v"]},
{"lookup": "r", "from": {"data": {"name": "attrs"}, "key": "i", "fields": ["n"]}, "as": ["rn"]},
{"lookup": "c", "from": {"data": {"name": "attrs"}, "key": "i", "fields": ["n"]}, "as": ["cn"]}
],
"mark": "rect",
"encoding": {
"x": {"field": "cn", "type": "nominal", "sort": {"field": "c", "op": "min"}, "title": null,
 "axis": {"labelAngle": -45, "labelFontSize": 7, "labelLimit": 106, "labelColor": "#666", "ticks": false, "domain": false, "labelPadding": 4, "labelOverlap": false,
 "values": ["HDI 2021","Meal, Inexpensive Restaurant (USD)","McMeal at McDonalds (or Equivalent Combo Meal) (USD)","Imported Beer (0.33 liter bottle, in restaurants) (USD)","Coke/Pepsi (0.33 liter bottle, in restaurants) (USD)","Milk (regular), (1 liter) (USD)","Rice (white), (1kg) (USD)","Local Cheese (1kg) (USD)","Beef Round (1kg) (or Equivalent Back Leg Red Meat) (USD)","Banana (1kg) (USD)","Tomato (1kg) (USD)","Onion (1kg) (USD)","Water (1.5 liter bottle, at the market) (USD)","Domestic Beer (0.5 liter bottle, at the market) (USD)","Cigarettes 20 Pack (Marlboro) (USD)","Monthly Pass (Regular Price) (USD)","Taxi 1km (Normal Tariff) (USD)","Gasoline (1 liter) (USD)","Toyota Corolla Sedan 1.6l 97kW Comfort (Or Equivalent New Car) (USD)","1 min. of Prepaid Mobile Tariff Local (No Discounts or Plans) (USD)","Fitness Club, Monthly Fee for 1 Adult (USD)","Cinema, International Release, 1 Seat (USD)","International Primary School, Yearly for 1 Child (USD)","1 Summer Dress in a Chain Store (Zara, H&M, ...) (USD)","1 Pair of Men Leather Business Shoes (USD)","Apartment (1 bedroom) Outside of Centre (USD)","Apartment (3 bedrooms) Outside of Centre (USD)","Price per Square Meter to Buy Apartment Outside of Centre (USD)","Mortgage Interest Rate in Percentages (%), Yearly, for 20 Years Fixed-Rate"]}},
"y": {"field": "rn", "type": "nominal", "sort": {"field": "r", "op": "min"}, "title": "Attributes",
 "axis": {"labelFontSize": 7, "labelLimit": 197, "labelColor": "#666", "ticks": false, "domain": false, "labelPadding": 10, "labelOverlap": false,
 "titleFontSize": 7.5, "titleFontWeight": "normal", "titleColor": "#666", "titlePadding": 8,
 "values": ["Meal, Inexpensive Restaurant (USD)","Domestic Beer (0.5 liter draught, in restaurants) (USD)","Coke/Pepsi (0.33 liter bottle, in restaurants) (USD)","Loaf of Fresh White Bread (500g) (USD)","Local Cheese (1kg) (USD)","Apples (1kg) (USD)","Tomato (1kg) (USD)","Lettuce (1 head) (USD)","Domestic Beer (0.5 liter bottle, at the market) (USD)","One-way Ticket (Local Transport) (USD)","Taxi 1km (Normal Tariff) (USD)","Volkswagen Golf 1.4 90 KW Trendline (Or Equivalent New Car) (USD)","1 min. of Prepaid Mobile Tariff Local (No Discounts or Plans) (USD)","Tennis Court Rent (1 Hour on Weekend) (USD)","International Primary School, Yearly for 1 Child (USD)","1 Pair of Nike Running Shoes (Mid-Range) (USD)","Apartment (1 bedroom) Outside of Centre (USD)","Price per Square Meter to Buy Apartment in City Centre (USD)","Mortgage Interest Rate in Percentages (%), Yearly, for 20 Years Fixed-Rate"]}},
"color": {"field": "v", "type": "quantitative",
 "scale": {"domain": [-1, 0, 1], "range": ["#6e8ff6", "#f6f3a4", "#ef3c3c"], "interpolate": "rgb"},
 "legend": {"orient": "none", "legendX": 15, "legendY": 306, "direction": "horizontal", "gradientLength": 130, "gradientThickness": 7, "labelFontSize": 6, "labelColor": "#666", "labelOverlap": false, "format": ".1~f", "title": null, "values": [-1, -0.5, 0, 0.5, 1]}}
},
"config": {"view": {"stroke": null}, "font": "DejaVu Sans"}
}
